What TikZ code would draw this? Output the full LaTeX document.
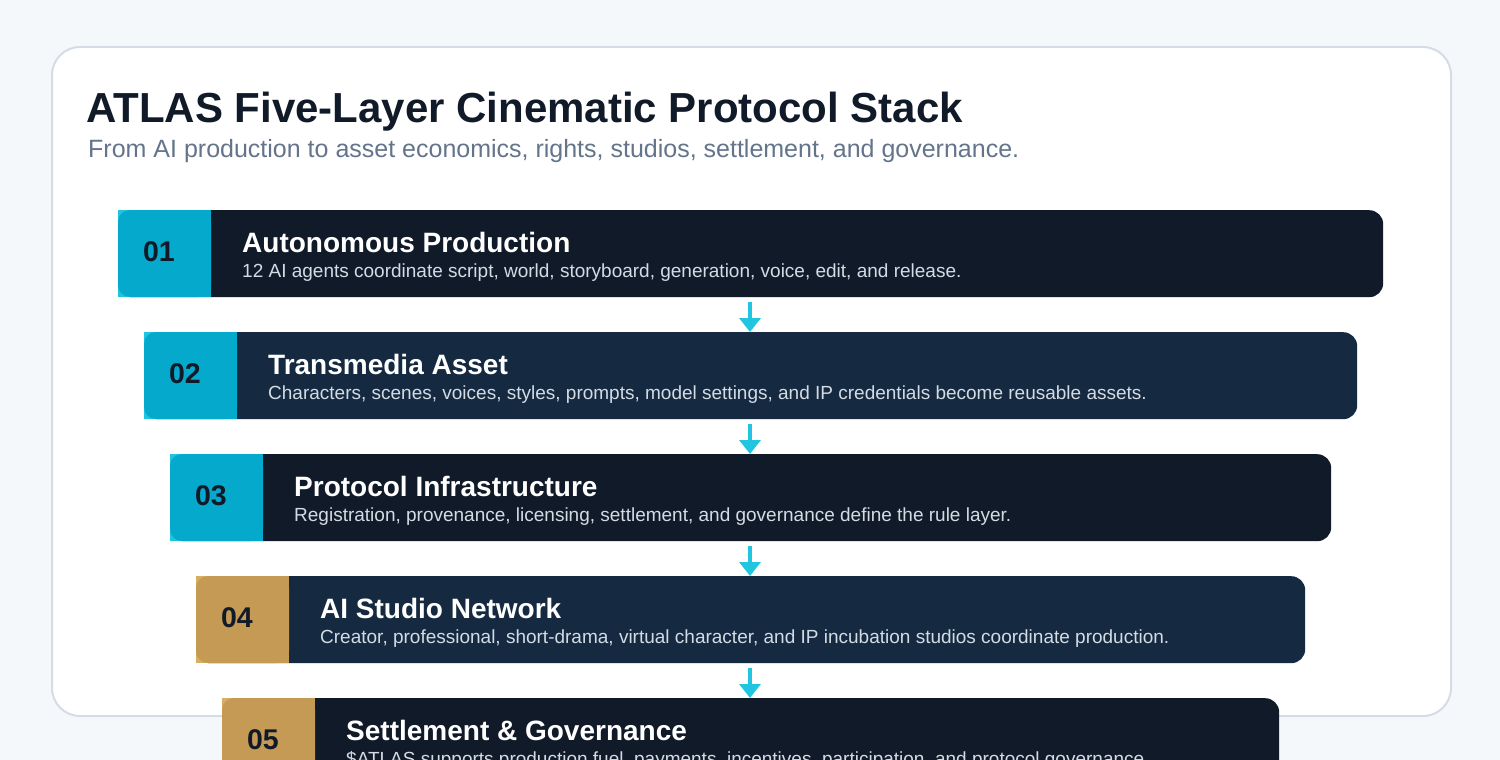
\documentclass[tikz,border=0pt]{standalone}
\usepackage{fontspec}
\setmainfont{Liberation Sans}
\definecolor{bgc}{HTML}{F5F8FB}
\definecolor{cardline}{HTML}{D6DCE6}
\definecolor{darkbar}{HTML}{111A28}
\definecolor{navybar}{HTML}{152A40}
\definecolor{cyanb}{HTML}{04A9CB}
\definecolor{cyanl}{HTML}{22C3DF}
\definecolor{goldb}{HTML}{C49A54}
\definecolor{goldl}{HTML}{D8AE62}
\definecolor{arrowc}{HTML}{22C5E0}
\definecolor{subtxt}{HTML}{D3DBE5}
\definecolor{headsub}{HTML}{64748B}
\usetikzlibrary{arrows.meta}
\begin{document}
\begin{tikzpicture}[x=1pt,y=-1pt,
  barbox/.style={rectangle, rounded corners=14pt, inner sep=0pt, minimum height=87pt, anchor=north west},
  numtxt/.style={inner sep=0pt, text=darkbar, font=\bfseries\fontsize{28.5}{32}\selectfont},
  bartitle/.style={inner sep=0pt, anchor=base west, text=white, font=\bfseries\fontsize{28}{32}\selectfont},
  bardesc/.style={inner sep=0pt, anchor=base west, text=subtxt, font=\fontsize{19}{22}\selectfont},
  flow/.style={draw=arrowc, line width=4pt, -{Triangle[width=21pt,length=14pt]}, shorten <=5pt}
]
\useasboundingbox (0,0) rectangle (1500,760);
\clip (0,0) rectangle (1500,760);
\fill[bgc] (0,0) rectangle (1500,760);
\node[draw=cardline, line width=2pt, fill=white, rounded corners=28pt, minimum width=1399pt, minimum height=669pt, anchor=north west, inner sep=0pt] (card) at (51,46) {};
\node[inner sep=0pt, anchor=base west, text=darkbar, font=\bfseries\fontsize{42}{46}\selectfont] (title) at (86,122) {ATLAS Five-Layer Cinematic Protocol Stack};
\node[inner sep=0pt, anchor=base west, text=headsub, font=\fontsize{25}{29}\selectfont] (subtitle) at (88,157) {From AI production to asset economics, rights, studios, settlement, and governance.};
% layers
\foreach \i/\x/\y/\w/\bar/\bc/\bl/\t/\d in {
 1/118/210/1265/darkbar/cyanb/cyanl/{Autonomous Production}/{12 AI agents coordinate script, world, storyboard, generation, voice, edit, and release.},
 2/144/332/1213/navybar/cyanb/cyanl/{Transmedia Asset}/{Characters, scenes, voices, styles, prompts, model settings, and IP credentials become reusable assets.},
 3/170/454/1161/darkbar/cyanb/cyanl/{Protocol Infrastructure}/{Registration, provenance, licensing, settlement, and governance define the rule layer.},
 4/196/576/1109/navybar/goldb/goldl/{AI Studio Network}/{Creator, professional, short-drama, virtual character, and IP incubation studios coordinate production.},
 5/222/698/1057/darkbar/goldb/goldl/{Settlement \& Governance}/{\$ATLAS supports production fuel, payments, incentives, participation, and protocol governance.}}
{
  \node[barbox, fill=\bar, minimum width=\w pt] (L\i) at (\x,\y) {};
  \fill[\bl] (\x,\y) rectangle ++(93,87);
  \fill[\bc, rounded corners=12pt] (\x,\y) rectangle ++(93,87);
  \fill[\bc] (\x+46,\y) rectangle ++(47,87);
  \node[numtxt] (N\i) at (\x+41,\y+42) {0\i};
  \node[bartitle] (T\i) at (\x+124,\y+42) {\t};
  \node[bardesc] (D\i) at (\x+124,\y+67) {\d};
}
\coordinate (ax) at (750,0);
\foreach \a/\b in {1/2,2/3,3/4,4/5}{
  \draw[flow] (L\a.south -| ax) -- (L\b.north -| ax);
}
\end{tikzpicture}
\end{document}
